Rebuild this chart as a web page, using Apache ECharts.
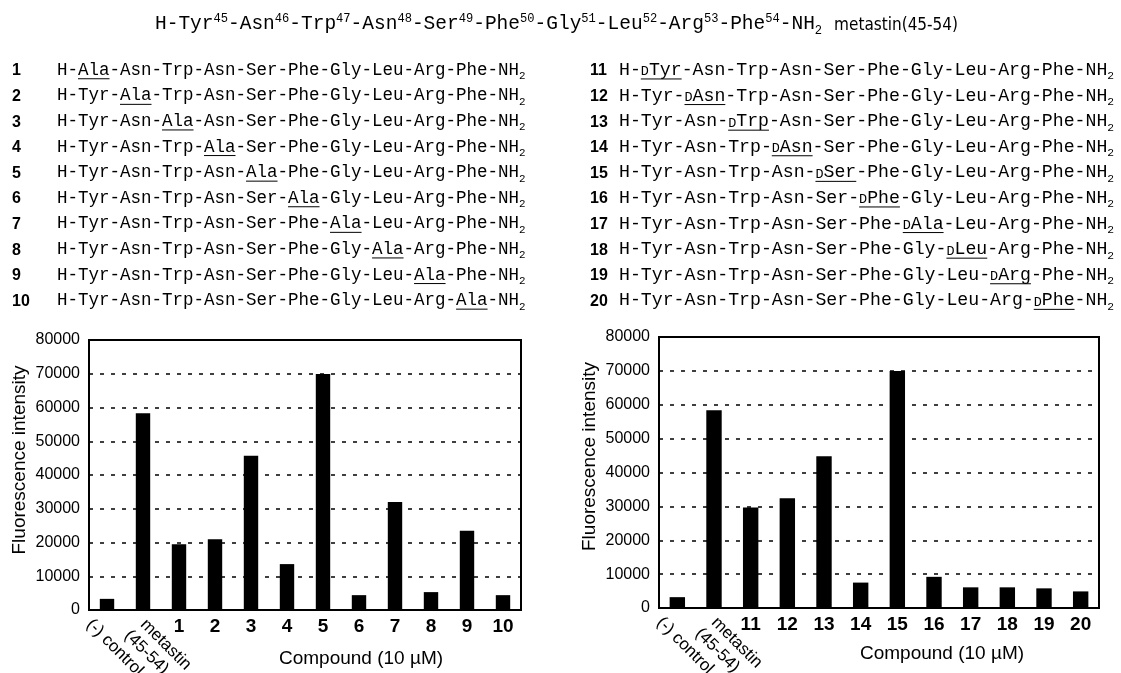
<!DOCTYPE html>
<html>
<head>
<meta charset="UTF-8">
<title>metastin(45-54) Ala / D-amino acid scan</title>
<script src="https://cdn.jsdelivr.net/npm/echarts@6/dist/echarts.min.js"></script>
<style>
  html, body { margin: 0; padding: 0; background: #fff; }
  #main { width: 1121px; height: 673px; }
</style>
</head>
<body>
<div id="main"></div>
<script>
// bar panels, values
var catsAla = ['(-) control', 'metastin\n(45-54)', '1', '2', '3', '4', '5', '6', '7', '8', '9', '10'];
var valsAla = [3300, 58300, 19500, 21000, 45700, 13600, 69900, 4400, 32000, 5300, 23500, 4400];
var catsD = ['(-) control', 'metastin\n(45-54)', '11', '12', '13', '14', '15', '16', '17', '18', '19', '20'];
var valsD = [3200, 58400, 29700, 32400, 44800, 7500, 70000, 9200, 6100, 6100, 5800, 4900];
var yTicks = [0, 10000, 20000, 30000, 40000, 50000, 60000, 70000, 80000];

// peptide
var residues = ['Tyr', 'Asn', 'Trp', 'Asn', 'Ser', 'Phe', 'Gly', 'Leu', 'Arg', 'Phe'];
var resNums = [45, 46, 47, 48, 49, 50, 51, 52, 53, 54];
var alaSubs = ['Ala', 'Ala', 'Ala', 'Ala', 'Ala', 'Ala', 'Ala', 'Ala', 'Ala', 'Ala'];
var dSubs = ['Tyr', 'Asn', 'Trp', 'Asn', 'Ser', 'Phe', 'Ala', 'Leu', 'Arg', 'Phe'];

var MONO = '"Courier New", "Liberation Mono", monospace';
var SANS = 'Arial, "Liberation Sans", Helvetica, sans-serif';
var NARROW = '"Liberation Sans Narrow", "Arial Narrow", "DejaVu Sans Condensed", sans-serif';

var chart = echarts.init(document.getElementById('main'));

var mctx = document.createElement('canvas').getContext('2d');
function textW(str, size, fam, weight) {
    mctx.font = (weight || 'normal') + ' ' + size + 'px ' + fam;
    return mctx.measureText(str).width;
}

// lays out a run of text pieces (super/subscripts, small D, underline) starting at x
function putRuns(els, x, yc, runs, base, fam) {
    var B = yc + 0.3 * base;   // baseline
    var uStart = null;
    runs.forEach(function (r) {
        var size = (r.sup || r.sub) ? base * 0.62 : (r.small ? base * 0.74 : base);
        var dy = r.sup ? -0.42 * base : (r.sub ? 0.22 * base : 0);
        var w = textW(r.t, size, fam);
        els.push({
            type: 'text', x: x, y: B - 0.35 * size + dy, silent: true,
            style: { text: r.t, fontSize: size, fontFamily: fam, fill: '#000',
                     verticalAlign: 'middle', textVerticalAlign: 'middle' }
        });
        if (r.u && uStart === null) uStart = x;
        if (!r.u && uStart !== null) {
            els.push({ type: 'line', silent: true, shape: { x1: uStart, y1: B + 2.5, x2: x, y2: B + 2.5 },
                       style: { stroke: '#000', lineWidth: 1 } });
            uStart = null;
        }
        x += w;
    });
    return x;
}

function seqRuns(pos, label, dPrefix) {
    var out = [{ t: 'H-' }];
    residues.forEach(function (r, i) {
        if (i) out.push({ t: '-' });
        if (i === pos) {
            if (dPrefix) out.push({ t: 'D', small: true, u: true });
            out.push({ t: label, u: true });
        } else {
            out.push({ t: r });
        }
    });
    out.push({ t: '-NH' });
    out.push({ t: '2', sub: true });
    // merge plain neighbours
    var merged = [];
    out.forEach(function (r) {
        var last = merged[merged.length - 1];
        if (last && !last.u && !r.u && !last.sub && !r.sub && !last.small && !r.small && !last.sup && !r.sup) {
            last.t += r.t;
        } else {
            merged.push({ t: r.t, u: r.u, sub: r.sub, sup: r.sup, small: r.small });
        }
    });
    return merged;
}

var graphics = [];

// title line
var tRuns = [];
residues.forEach(function (r, i) {
    tRuns.push({ t: (i ? '-' : 'H-') + r });
    tRuns.push({ t: String(resNums[i]), sup: true });
});
tRuns.push({ t: '-NH' });
tRuns.push({ t: '2', sub: true });
var tEnd = putRuns(graphics, 155, 25, tRuns, 19.5, MONO);
graphics.push({
    type: 'text', x: tEnd + 12, y: 26, silent: true,
    style: { text: 'metastin(45-54)', fontSize: 17, fontFamily: NARROW, fill: '#000',
             verticalAlign: 'middle', textVerticalAlign: 'middle' }
});

// compound lists
for (var i = 0; i < 10; i++) {
    var yc = 71 + i * 25.6;
    graphics.push({
        type: 'text', x: 12, y: yc, silent: true,
        style: { text: String(i + 1), fontSize: 16, fontWeight: 'bold', fontFamily: SANS, fill: '#000',
                 verticalAlign: 'middle', textVerticalAlign: 'middle' }
    });
    putRuns(graphics, 57, yc, seqRuns(i, alaSubs[i], false), 17.5, MONO);

    graphics.push({
        type: 'text', x: 590, y: yc, silent: true,
        style: { text: String(i + 11), fontSize: 16, fontWeight: 'bold', fontFamily: SANS, fill: '#000',
                 verticalAlign: 'middle', textVerticalAlign: 'middle' }
    });
    putRuns(graphics, 619, yc, seqRuns(i, dSubs[i], true), 18.2, MONO);
}

function numAxis(g, cats, shift, gap) {
    return {
        gridIndex: g, type: 'category', data: cats, position: 'bottom',
        axisLine: { lineStyle: { color: '#000', width: 2 } },
        axisTick: { show: false },
        axisLabel: {
            interval: 0, margin: 7, color: '#000', fontSize: 19, fontWeight: 'bold', fontFamily: SANS,
            formatter: function (v, idx) { return idx < 2 ? '' : v; }
        },
        name: 'Compound (10 \u00b5M)', nameLocation: 'middle', nameGap: gap,
        nameTextStyle: { color: '#000', fontSize: 19, fontFamily: SANS, padding: [0, 0, 0, shift * 2] }
    };
}
function valAxis(g, shiftUp) {
    return {
        gridIndex: g, type: 'value',
        min: yTicks[0], max: yTicks[yTicks.length - 1], interval: yTicks[1] - yTicks[0],
        axisLine: { show: true, lineStyle: { color: '#000', width: 2 } },
        axisTick: { show: false },
        axisLabel: { color: '#000', fontSize: 16, margin: 9, fontFamily: SANS,
                     formatter: function (v) { return String(v); } },
        splitLine: { lineStyle: { color: '#000', type: [4, 7], width: 1.5 } },
        name: 'Fluorescence intensity', nameLocation: 'middle', nameGap: 60,
        nameTextStyle: { color: '#000', fontSize: 19, fontFamily: SANS, padding: [0, 0, 0, shiftUp * 2] }
    };
}

var option = {
    animation: false,
    backgroundColor: '#fff',
    grid: [
        { left: 89, top: 340, width: 432, height: 270, show: true, borderColor: '#000', borderWidth: 2,
          outerBoundsMode: 'none', containLabel: false },
        { left: 659, top: 337, width: 440, height: 271, show: true, borderColor: '#000', borderWidth: 2,
          outerBoundsMode: 'none', containLabel: false }
    ],
    xAxis: [numAxis(0, catsAla, 56, 39), numAxis(1, catsD, 63, 36)],
    yAxis: [valAxis(0, 15), valAxis(1, 16)],
    series: [
        { type: 'bar', xAxisIndex: 0, yAxisIndex: 0, data: valsAla, barWidth: '40%',
          itemStyle: { color: '#000' }, silent: true },
        { type: 'bar', xAxisIndex: 1, yAxisIndex: 1, data: valsD, barWidth: '42%',
          itemStyle: { color: '#000' }, silent: true }
    ],
    graphic: graphics
};
chart.setOption(option);

// slanted labels for the two reference categories, placed at their tick positions
[[0, catsAla], [1, catsD]].forEach(function (p) {
    var ax = p[0], cats = p[1];
    var axisY = chart.convertToPixel({ yAxisIndex: ax }, 0);
    for (var c = 0; c < 2; c++) {
        var tick = chart.convertToPixel({ xAxisIndex: ax }, c);
        var lines = cats[c].split('\n');
        var n = lines.length;
        lines.forEach(function (ln, j) {
            graphics.push({
                type: 'text', silent: true,
                x: tick - 18 + 18 * (n - 1) - 16 * j,
                y: axisY + 12 + 11 * j,
                rotation: -Math.PI / 4,
                style: { text: ln, fontSize: 17, fontFamily: SANS, fill: '#000',
                         align: 'left', verticalAlign: 'middle', textAlign: 'left', textVerticalAlign: 'middle' }
            });
        });
    }
});
chart.setOption({ graphic: graphics });
</script>
</body>
</html>
